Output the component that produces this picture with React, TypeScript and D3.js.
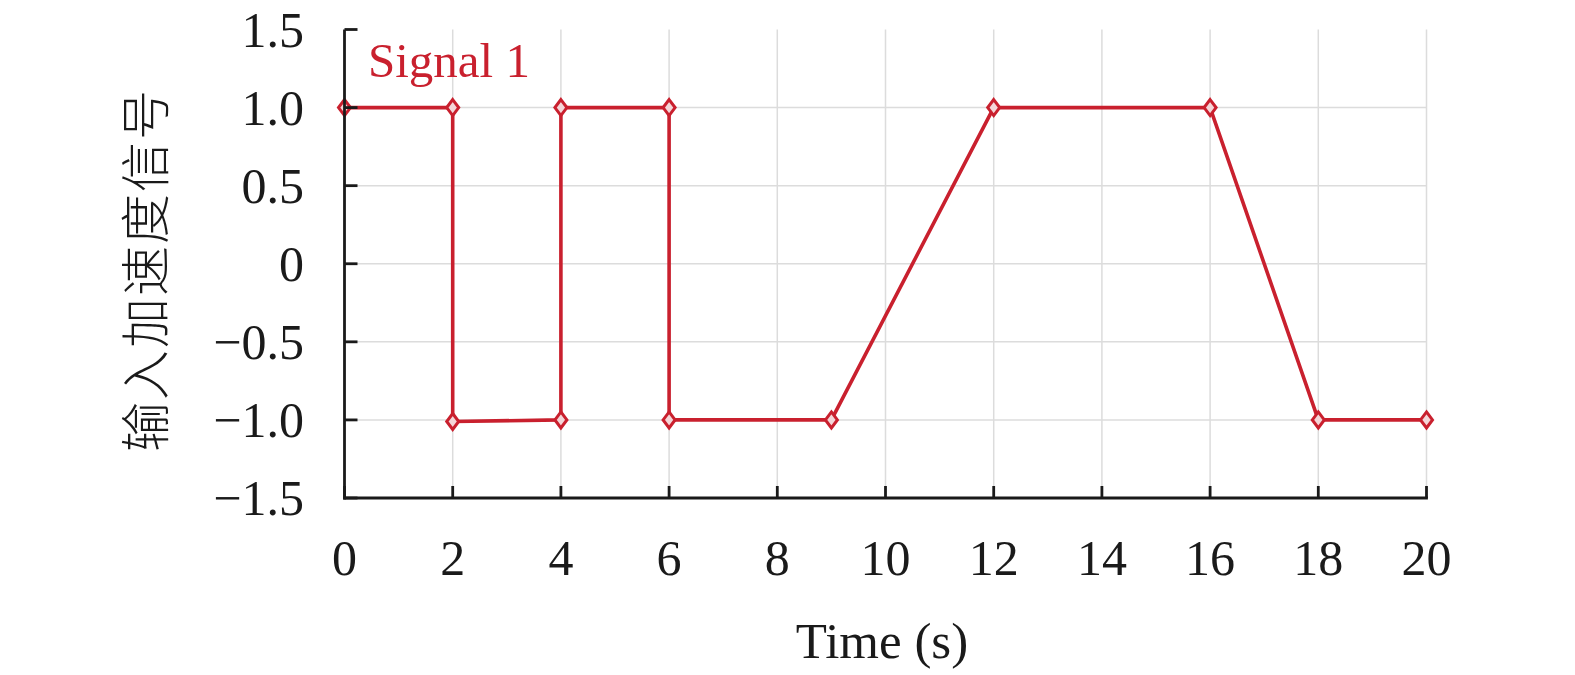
import React from "react";
import * as d3 from "d3";

// signal samples
const timeS = [0, 2, 2, 4, 4, 6, 6, 9, 12, 16, 18, 20];
const signal = [1, 1, -1.01, -1, 1, 1, -1, -1, 1, 1, -1, -1];
const xTicks = [0, 2, 4, 6, 8, 10, 12, 14, 16, 18, 20];
const yTicks = [-1.5, -1.0, -0.5, 0, 0.5, 1.0, 1.5];
const yTickLabels = ["\u22121.5", "\u22121.0", "\u22120.5", "0", "0.5", "1.0", "1.5"];
const seriesName = "Signal 1";
const xTitle = "Time (s)";
const yTitle = "输入加速度信号";

const W = 1575;
const H = 675;
const RED = "#c9202e";
const SERIF = "'Liberation Serif', 'Times New Roman', serif";

const App: React.FC = () => {
    const x = d3.scaleLinear().domain([0, 20]).range([344.5, 1426.5]);
    const y = d3.scaleLinear().domain([-1.5, 1.5]).range([498, 29.5]);

    const pts = timeS.map((t, i) => [t, signal[i]] as [number, number]);
    const line = d3.line<[number, number]>()
        .x((d) => x(d[0]))
        .y((d) => y(d[1]));

    const diamond = (cx: number, cy: number) =>
        `M${cx},${cy - 8}L${cx + 6},${cy}L${cx},${cy + 8}L${cx - 6},${cy}Z`;

    const [x0, x1] = x.range();
    const [yb, yt] = y.range();

    return (
        <svg width={W} height={H} style={{ position: "fixed", left: 0, top: 0, background: "#fff" }}>
            {/* grid */}
            <g stroke="#dcdcdc" strokeWidth={1.5}>
                {xTicks.filter((t) => t > 0).map((t) => (
                    <line key={"gx" + t} x1={x(t)} x2={x(t)} y1={yt} y2={yb} />
                ))}
                {yTicks.filter((t) => t > -1.5 && t < 1.5).map((t) => (
                    <line key={"gy" + t} x1={x0} x2={x1} y1={y(t)} y2={y(t)} />
                ))}
            </g>

            {/* series */}
            <path d={line(pts) ?? ""} fill="none" stroke={RED} strokeWidth={3.6} strokeLinejoin="round" />
            {pts.map((p, i) => (
                <path key={"m" + i} d={diamond(x(p[0]), y(p[1]))} fill="#f4d6d8" stroke={RED} strokeWidth={3} />
            ))}

            {/* axes */}
            <g stroke="#1a1a1a" strokeWidth={2.8} fill="none">
                <line x1={x0} x2={x0} y1={yt} y2={yb + 1.4} />
                <line x1={x0 - 1.4} x2={x1 + 1.4} y1={yb} y2={yb} />
                {yTicks.map((t) => (
                    <line key={"ty" + t} x1={x0} x2={x0 + 13} y1={y(t)} y2={y(t)} />
                ))}
                {xTicks.map((t) => (
                    <line key={"tx" + t} x1={x(t)} x2={x(t)} y1={yb} y2={yb - 12} />
                ))}
            </g>

            {/* tick labels */}
            <g fontFamily={SERIF} fontSize={50} fill="#1a1a1a">
                {yTicks.map((t, i) => (
                    <text key={"ly" + t} x={304} y={y(t) + 17} textAnchor="end">{yTickLabels[i]}</text>
                ))}
                {xTicks.map((t) => (
                    <text key={"lx" + t} x={x(t)} y={575} textAnchor="middle">{t}</text>
                ))}
            </g>

            {/* titles */}
            <text x={882} y={658} textAnchor="middle" fontFamily={SERIF} fontSize={51} fill="#1a1a1a">{xTitle}</text>
            <text
                transform={`translate(164,270) rotate(-90)`}
                textAnchor="middle"
                fontFamily="'Noto Sans CJK SC', sans-serif"
                fontWeight={300}
                fontSize={50}
                letterSpacing={2}
                fill="#1a1a1a"
            >
                {yTitle}
            </text>

            {/* legend label */}
            <text x={368} y={77} fontFamily={SERIF} fontSize={49} fill={RED}>{seriesName}</text>
        </svg>
    );
};

export default App;
